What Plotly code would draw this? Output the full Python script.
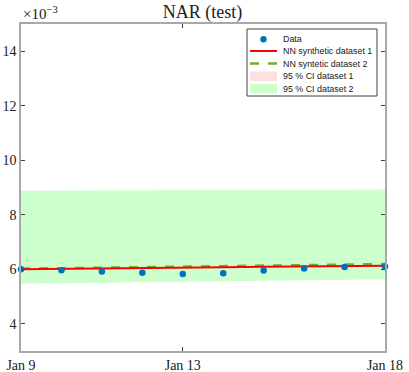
import plotly.graph_objects as go

dates = ["2021-01-09", "2021-01-10", "2021-01-11", "2021-01-12", "2021-01-13",
         "2021-01-14", "2021-01-15", "2021-01-16", "2021-01-17", "2021-01-18"]
data_vals = [6.00, 5.96, 5.92, 5.87, 5.83, 5.85, 5.95, 6.03, 6.08, 6.10]
nn1_vals = [6.00, 6.01, 6.03, 6.04, 6.06, 6.07, 6.09, 6.10, 6.12, 6.13]
nn2_vals = [6.02, 6.04, 6.06, 6.08, 6.10, 6.11, 6.13, 6.15, 6.17, 6.19]
ci1_lo = [5.95, 5.96, 5.98, 5.99, 6.01, 6.02, 6.04, 6.05, 6.07, 6.08]
ci1_hi = [6.05, 6.06, 6.08, 6.09, 6.11, 6.12, 6.14, 6.15, 6.17, 6.18]
ci2_lo = [5.47, 5.49, 5.51, 5.52, 5.54, 5.56, 5.58, 5.59, 5.61, 5.63]
ci2_hi = [8.88, 8.89, 8.89, 8.90, 8.90, 8.91, 8.91, 8.92, 8.92, 8.93]
tick_dates = ["2021-01-09", "2021-01-13", "2021-01-18"]
tick_text = ["Jan 9", "Jan 13", "Jan 18"]
y_ticks = [4, 6, 8, 10, 12, 14]
legend_names = ["Data", "NN synthetic dataset 1", "NN syntetic dataset 2",
                "95 % CI dataset 1", "95 % CI dataset 2"]

W, H = 409, 372
ML, MR, MT, MB = 21, 24, 24, 21
PW, PH = W - ML - MR, H - MT - MB

C_DATA, C_NN1, C_NN2, C_CI1, C_CI2 = "#0072bd", "#ff0000", "#77ac30", "#ffe0e0", "#ccffcc"

fig = go.Figure()
fig.add_trace(go.Scatter(x=dates + dates[::-1], y=ci1_hi + ci1_lo[::-1], fill="toself",
                         fillcolor=C_CI1, line=dict(width=0), mode="lines",
                         name=legend_names[3]))
fig.add_trace(go.Scatter(x=dates + dates[::-1], y=ci2_hi + ci2_lo[::-1], fill="toself",
                         fillcolor=C_CI2, line=dict(width=0), mode="lines",
                         name=legend_names[4]))
fig.add_trace(go.Scatter(x=dates, y=nn2_vals, mode="lines",
                         line=dict(color=C_NN2, width=2.5, dash="dash"),
                         name=legend_names[2]))
fig.add_trace(go.Scatter(x=dates, y=nn1_vals, mode="lines",
                         line=dict(color=C_NN1, width=2),
                         name=legend_names[1]))
fig.add_trace(go.Scatter(x=dates, y=data_vals, mode="markers",
                         marker=dict(color=C_DATA, size=6.5),
                         name=legend_names[0], cliponaxis=False))


def px_x(px):
    return (px - ML) / PW


def px_y(py):
    return (H - MB - py) / PH


# manual compact legend (MATLAB style)
shapes = []
annotations = []
bx0, bx1, by0, by1 = 247, 377, 29, 96
shapes.append(dict(type="rect", xref="paper", yref="paper", x0=px_x(bx0), x1=px_x(bx1),
                   y0=px_y(by1), y1=px_y(by0), line=dict(color="#404040", width=1),
                   fillcolor="white", layer="above"))
rows = [39.3, 51.0, 63.5, 76.3, 88.6]
sx0, sx1, tx = 250, 277, 280.5
for i, (name, ry) in enumerate(zip(legend_names, rows)):
    if i == 0:
        shapes.append(dict(type="circle", xref="paper", yref="paper",
                           x0=px_x(263.5 - 3.2), x1=px_x(263.5 + 3.2),
                           y0=px_y(ry + 3.2), y1=px_y(ry - 3.2),
                           fillcolor=C_DATA, line=dict(width=0), layer="above"))
    elif i == 1:
        shapes.append(dict(type="line", xref="paper", yref="paper", x0=px_x(sx0), x1=px_x(sx1),
                           y0=px_y(ry), y1=px_y(ry), line=dict(color=C_NN1, width=2),
                           layer="above"))
    elif i == 2:
        shapes.append(dict(type="line", xref="paper", yref="paper", x0=px_x(sx0), x1=px_x(sx1),
                           y0=px_y(ry), y1=px_y(ry), line=dict(color=C_NN2, width=2.5, dash="dash"),
                           layer="above"))
    else:
        shapes.append(dict(type="rect", xref="paper", yref="paper", x0=px_x(sx0), x1=px_x(sx1),
                           y0=px_y(ry + 4.8), y1=px_y(ry - 4.8),
                           fillcolor=C_CI1 if i == 3 else C_CI2, line=dict(width=0),
                           layer="above"))
    annotations.append(dict(text=name, x=px_x(tx), y=px_y(ry), xref="paper", yref="paper",
                            xanchor="left", yanchor="middle", showarrow=False,
                            font=dict(family="Liberation Sans, Arial, sans-serif", size=8.9,
                                      color="#202020")))

serif = "Liberation Serif, DejaVu Serif, serif"
annotations.append(dict(text="×10<sup>−3</sup>", x=px_x(21), y=px_y(13), xref="paper",
                        yref="paper", xanchor="left", yanchor="middle", showarrow=False,
                        font=dict(family=serif, size=15, color="#202020")))

fig.update_layout(
    width=W, height=H,
    margin=dict(l=ML, r=MR, t=MT, b=MB),
    plot_bgcolor="white", paper_bgcolor="white",
    title=dict(text="NAR (test)", x=202.5 / W, xanchor="center",
               y=1 - 12 / H, yanchor="middle",
               font=dict(family=serif, size=18, color="#202020")),
    showlegend=False,
    xaxis=dict(type="date", range=["2021-01-09", "2021-01-18"], tickvals=tick_dates,
               ticktext=tick_text, ticks="inside", ticklen=4, tickcolor="#404040",
               showline=True, linecolor="#a8a8a8", linewidth=1.5, mirror="ticks",
               showgrid=False, zeroline=False, automargin=False,
               tickfont=dict(family=serif, size=14, color="#202020")),
    yaxis=dict(range=[3, 15], tickvals=y_ticks, ticks="inside", ticklen=4, tickcolor="#404040",
               showline=True, linecolor="#a8a8a8", linewidth=1.5, mirror="ticks",
               showgrid=False, zeroline=False, automargin=False,
               tickfont=dict(family=serif, size=14, color="#202020")),
    shapes=shapes,
    annotations=annotations,
)
fig.write_html("out.html", config={"displayModeBar": False},
               post_script="document.body.style.margin='0';")
